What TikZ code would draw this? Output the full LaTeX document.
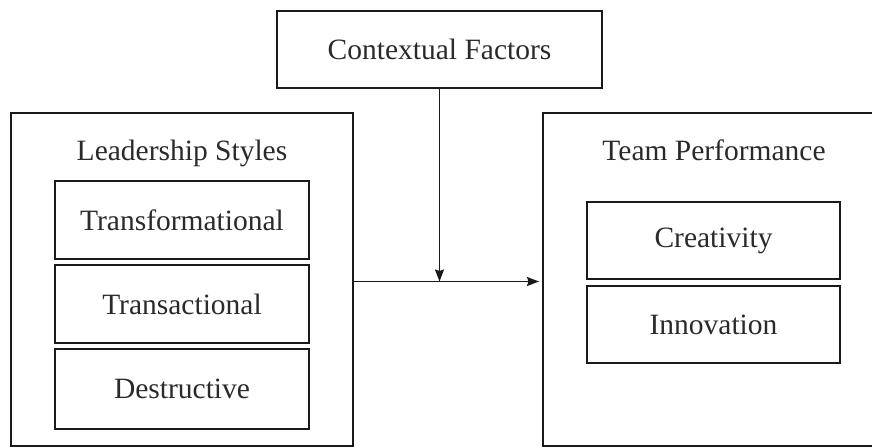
\documentclass[tikz,border=0pt]{standalone}
\usepackage{fontspec}
\setmainfont{Liberation Serif}
\usetikzlibrary{arrows.meta}
\definecolor{linec}{HTML}{1A1A1A}
\definecolor{textc}{HTML}{2A2A2A}
\begin{document}
\begin{tikzpicture}[x=1pt,y=-1pt,
  box/.style={draw=linec,line width=1.8pt,rectangle,inner sep=0pt,text=textc,
    font=\fontsize{29.5}{34}\selectfont},
  title/.style={inner sep=0pt,text=textc,anchor=base,font=\fontsize{29.5}{34}\selectfont},
  conn/.style={draw=linec,line width=1.6pt,-{Stealth[length=12pt,width=9pt,inset=1.5pt]}}]
\useasboundingbox (0,0) rectangle (872,447);
\begin{scope}
\clip (0,0) rectangle (872,447);
\node[box,minimum width=325pt,minimum height=77pt] (ctx) at (439.5,49.5) {Contextual Factors};
\node[box,minimum width=342pt,minimum height=333pt] (lead) at (182,279.5) {};
\node[title] (leadt) at (182,160) {Leadership Styles};
\node[box,minimum width=254pt,minimum height=78pt] (tf) at (182,220) {Transformational};
\node[box,minimum width=254pt,minimum height=78pt] (ta) at (182,304) {Transactional};
\node[box,minimum width=254pt,minimum height=80pt] (de) at (182,389) {Destructive};
\node[box,minimum width=341pt,minimum height=333pt] (team) at (713.5,279.5) {};
\node[title] (teamt) at (714,160) {Team Performance};
\node[box,minimum width=253pt,minimum height=77pt] (cr) at (713.5,240.5) {Creativity};
\node[box,minimum width=253pt,minimum height=77pt] (in) at (713.5,324.5) {Innovation};
\coordinate (mid) at (439.5,281.5);
\coordinate (tip) at (539,281.5);
\draw[conn] (lead.east |- mid) -- (tip);
\draw[conn] (ctx.south) -- (mid);
\end{scope}
\end{tikzpicture}
\end{document}
